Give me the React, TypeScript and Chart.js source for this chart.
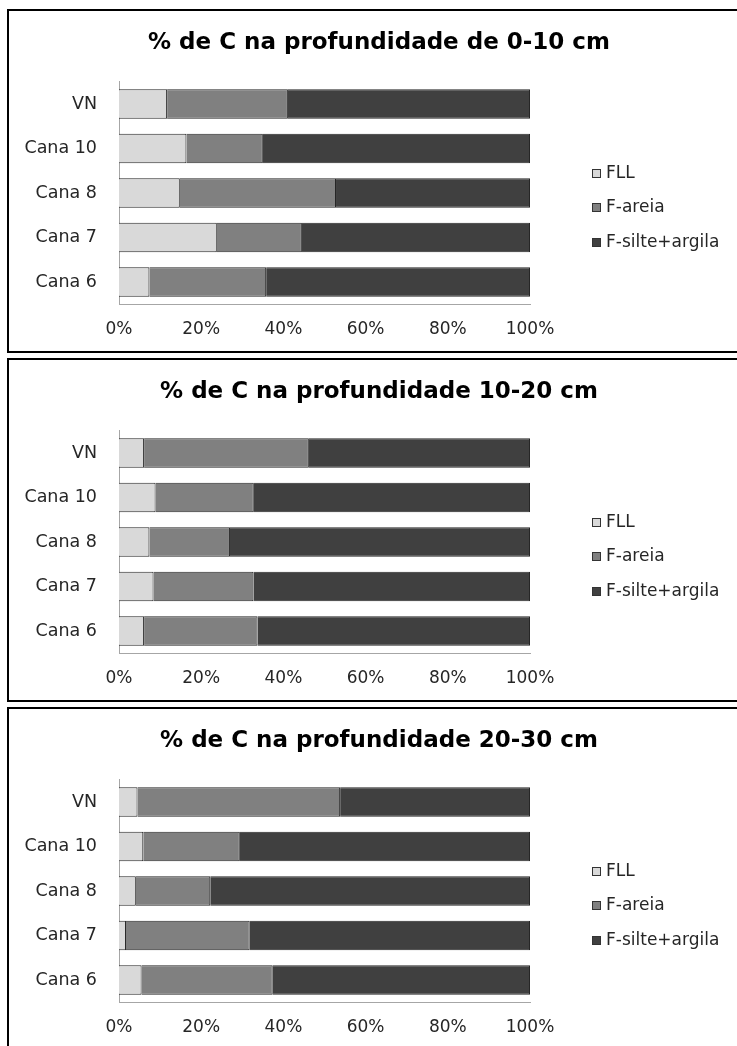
import React, { useEffect, useRef } from "react";
import { Chart, registerables } from "chart.js";

Chart.register(...registerables);

const FONT = "'DejaVu Sans', sans-serif";

// Categories, top to bottom
const categories = ["VN", "Cana 10", "Cana 8", "Cana 7", "Cana 6"];
const seriesNames = ["FLL", "F-areia", "F-silte+argila"];
const xTicks = [0, 20, 40, 60, 80, 100];

const titles = [
  "% de C na profundidade de 0-10 cm",
  "% de C na profundidade 10-20 cm",
  "% de C na profundidade 20-30 cm",
];

// 0-10 cm (% of total C)
const fll0to10 = [11.7, 16.4, 14.8, 23.8, 7.4];
const areia0to10 = [29.4, 18.6, 38.0, 20.7, 28.4];
const silte0to10 = [58.9, 65.0, 47.2, 55.5, 64.2];

// 10-20 cm
const fll10to20 = [6.1, 8.9, 7.4, 8.4, 6.1];
const areia10to20 = [40.1, 23.9, 19.6, 24.3, 27.6];
const silte10to20 = [53.8, 67.2, 73.0, 67.3, 66.3];

// 20-30 cm
const fll20to30 = [4.5, 5.9, 4.1, 1.7, 5.5];
const areia20to30 = [49.3, 23.5, 18.1, 30.1, 31.9];
const silte20to30 = [46.2, 70.6, 77.8, 68.2, 62.6];

const fills = ["#d9d9d9", "#808080", "#404040"];

const CANVAS_W = 740;
const CANVAS_H = 340;

// Legend drawn at the right of the plot, one row per dataset
const sideLegend = {
  id: "sideLegend",
  afterDraw(chart: any) {
    const { ctx, chartArea } = chart;
    const mid = (chartArea.top + chartArea.bottom) / 2 + 14;
    ctx.save();
    ctx.font = `17px ${FONT}`;
    ctx.textBaseline = "middle";
    ctx.textAlign = "left";
    chart.data.datasets.forEach((ds: any, i: number) => {
      const y = Math.round(mid + (i - 1) * 34.5);
      const x = Math.round(chartArea.right + 62);
      ctx.fillStyle = ds.backgroundColor;
      ctx.fillRect(x, y - 4, 9, 9);
      ctx.strokeStyle = "#333333";
      ctx.lineWidth = 1;
      ctx.strokeRect(x + 0.5, y - 3.5, 8, 8);
      ctx.fillStyle = "#262626";
      ctx.fillText(ds.label, x + 14, y + 1);
    });
    ctx.restore();
  },
};

function Panel({ title, series, top }: { title: string; series: number[][]; top: number }) {
  const ref = useRef<HTMLCanvasElement | null>(null);

  useEffect(() => {
    if (!ref.current) return;
    const chart = new Chart(ref.current, {
      type: "bar",
      data: {
        labels: categories,
        datasets: series.map((values, i) => ({
          label: seriesNames[i],
          data: values,
          backgroundColor: fills[i],
          borderColor: "#262626",
          borderWidth: 1,
          barPercentage: 0.66,
          categoryPercentage: 1,
          xAxisID: "x",
          yAxisID: "y",
        })),
      },
      options: {
        indexAxis: "y",
        responsive: false,
        animation: false,
        events: [],
        layout: { padding: 0 },
        plugins: {
          legend: { display: false },
          tooltip: { enabled: false },
          title: {
            display: true,
            text: title,
            color: "#000000",
            font: { family: FONT, size: 23, weight: "bold" },
            padding: { top: 18.6, bottom: 24.5 },
          },
        },
        scales: {
          x: {
            type: "linear",
            stacked: true,
            min: 0,
            max: 100,
            afterBuildTicks: (s: any) => {
              s.ticks = xTicks.map((v) => ({ value: v }));
            },
            afterFit: (s: any) => {
              s.height = 46.7;
            },
            grid: { display: false, drawTicks: false },
            border: { display: true, color: "#a6a6a6", width: 1 },
            ticks: {
              padding: 15.5,
              color: "#262626",
              font: { family: FONT, size: 17 },
              callback: (v: any) => `${v}%`,
            },
          },
          y: {
            type: "category",
            stacked: true,
            position: "left",
            afterFit: (s: any) => {
              s.width = 110;
            },
            grid: { display: false, drawTicks: false },
            border: { display: true, color: "#a6a6a6", width: 1 },
            ticks: {
              padding: 22,
              color: "#262626",
              font: { family: FONT, size: 17.5 },
            },
          },
          legendSpace: {
            type: "linear",
            axis: "y",
            position: "right",
            display: true,
            afterFit: (s: any) => {
              s.width = CANVAS_W - 521;
            },
            grid: { display: false, drawTicks: false },
            border: { display: false },
            ticks: { display: false },
          },
        },
      } as any,
      plugins: [sideLegend],
    });
    return () => chart.destroy();
  }, [title, series]);

  return (
    <div
      style={{
        position: "absolute",
        left: 7,
        top,
        width: 780,
        height: 344,
        border: "2px solid #000000",
        boxSizing: "border-box",
        background: "#ffffff",
      }}
    >
      <canvas
        ref={ref}
        width={CANVAS_W}
        height={CANVAS_H}
        style={{ position: "absolute", left: 0, top: 0, display: "block" }}
      />
    </div>
  );
}

const panels = [
  { title: titles[0], series: [fll0to10, areia0to10, silte0to10], top: 9 },
  { title: titles[1], series: [fll10to20, areia10to20, silte10to20], top: 358 },
  { title: titles[2], series: [fll20to30, areia20to30, silte20to30], top: 707 },
];

export default function App() {
  return (
    <div
      style={{
        position: "fixed",
        left: 0,
        top: 0,
        width: 737,
        height: 1046,
        overflow: "hidden",
        background: "#ffffff",
      }}
    >
      {panels.map((p) => (
        <Panel key={p.title} title={p.title} series={p.series} top={p.top} />
      ))}
    </div>
  );
}
